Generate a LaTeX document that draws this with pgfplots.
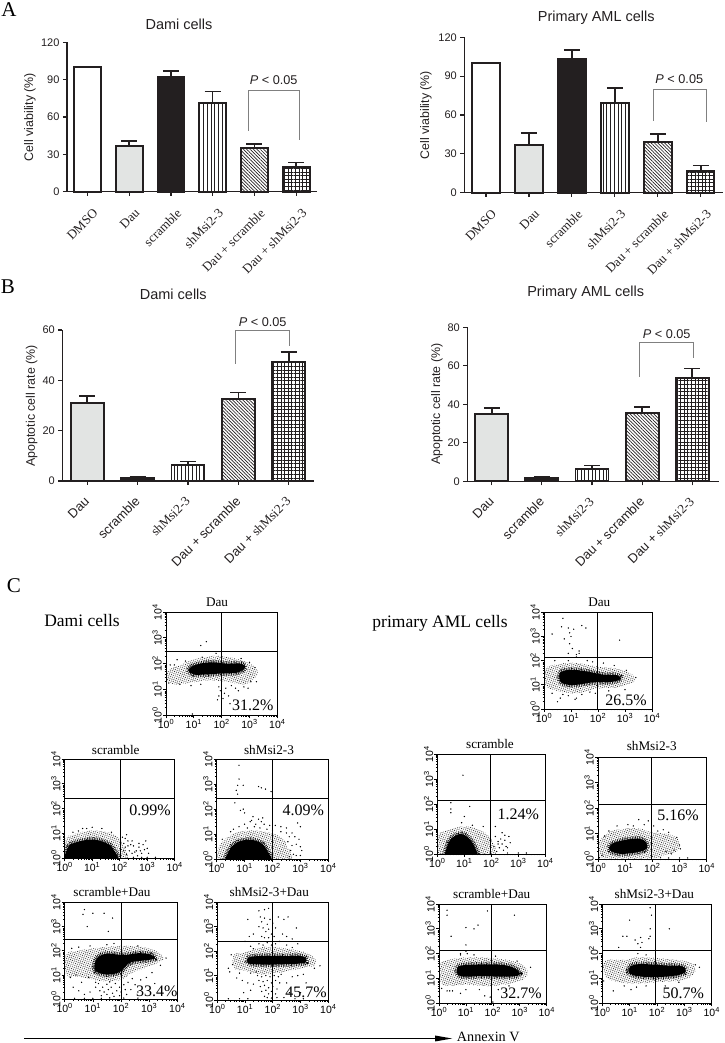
\documentclass[border=0pt]{standalone}
\usepackage{fontspec}
\setmainfont{Liberation Serif}
\setsansfont{Liberation Sans}
\usepackage{pgfplots}
\pgfplotsset{compat=1.18}
\usetikzlibrary{patterns.meta}
\definecolor{ink}{HTML}{231F20}
\definecolor{daugray}{HTML}{E2E4E3}
\definecolor{brk}{HTML}{808080}
\pgfplotsset{
  barax/.style={scale only axis,axis lines=left,axis line style={-,ink,line width=1.1pt},
    ybar,ymin=0,enlargelimits=false,clip=false,
    tick style={ink,line width=1.1pt},major tick length=4pt,tick align=outside,
    ticklabel style={text=ink},
    yticklabel style={font=\sffamily\fontsize{11}{12}\selectfont,/pgf/number format/assume math mode=true},
    xticklabel style={rotate=45,anchor=north east,font=\fontsize{13}{14}\selectfont,inner sep=1pt,xshift=-4pt,yshift=-11pt},
    label style={font=\sffamily\fontsize{12.4}{14}\selectfont,text=ink},
    title style={font=\sffamily\fontsize{14.5}{16}\selectfont,text=ink,anchor=center}},
  bb/.style={bar shift=0pt,draw=ink,line width=1.9pt,
    error bars/y dir=plus,error bars/y explicit,error bars/error bar style={line width=1.6pt,ink},
    error bars/error mark options={rotate=90,mark size=#1,line width=1.6pt,ink}},
  bb/.default=8pt,
  flow/.style={scale only axis,xmin=0,xmax=4,ymin=0,ymax=4,
    axis line style={black,line width=.8pt},
    xtick={0,1,2,3,4},ytick={0,1,2,3,4},xtick pos=left,ytick pos=left,
    xticklabels={10\textsuperscript{0},10\textsuperscript{1},10\textsuperscript{2},10\textsuperscript{3},10\textsuperscript{4}},
    yticklabels={10\textsuperscript{0},10\textsuperscript{1},10\textsuperscript{2},10\textsuperscript{3},10\textsuperscript{4}},
    minor xtick={.3,.48,.6,.7,.78,.85,.9,.95,1.3,1.48,1.6,1.7,1.78,1.85,1.9,1.95,2.3,2.48,2.6,2.7,2.78,2.85,2.9,2.95,3.3,3.48,3.6,3.7,3.78,3.85,3.9,3.95},
    minor ytick={.3,.48,.6,.7,.78,.85,.9,.95,1.3,1.48,1.6,1.7,1.78,1.85,1.9,1.95,2.3,2.48,2.6,2.7,2.78,2.85,2.9,2.95,3.3,3.48,3.6,3.7,3.78,3.85,3.9,3.95},
    major tick length=3pt,minor tick length=1.5pt,tick align=outside,
    tick style={black,line width=.7pt},minor tick style={black,line width=.5pt},
    ticklabel style={font=\sffamily\fontsize{10.5}{11}\selectfont,inner sep=1pt},
    yticklabel style={rotate=90,anchor=south}},
  fringe/.style={draw=none,smooth cycle,tension=.6,pattern={Dots[distance=1.8pt,radius=.45pt,angle=17]},pattern color=black},
  fuzz/.style={draw=black,line width=5pt,dash pattern=on .55pt off 1.1pt,smooth cycle,tension=.6},
  core/.style={draw=none,smooth cycle,tension=.6,fill=black}
}
\newcommand{\cloud}[2]{\addplot[fringe] coordinates {#1};\addplot[fuzz] coordinates {#2};\addplot[core] coordinates {#2};}
\newcommand{\strays}[1]{\addplot[only marks,mark=*,mark size=.42pt,black] coordinates {#1};}
\newcommand{\quadr}[2]{\addplot[black,line width=.7pt] coordinates {(#1,0)(#1,4)};\addplot[black,line width=.7pt] coordinates {(0,#2)(4,#2)};}
\begin{document}
\begin{tikzpicture}
\path[use as bounding box] (0,0) rectangle (724pt,1043pt);
% ---------- A left
\begin{axis}[barax,at={(67pt,851.3pt)},anchor=south west,width=250pt,height=149.4pt,
  xmin=-.492,xmax=5.5,ymax=120,ytick={0,30,60,90,120},xtick={0,1,2,3,4,5},
  xticklabels={DMSO,Dau,scramble,shMsi2-3,Dau + scramble,Dau + shMsi2-3},
  bar width=27pt,title={Dami cells},title style={at={(axis description cs:.448,1.082)}},
  ylabel={Cell viability (\%)},ylabel style={at={(axis description cs:-.148,.5)},anchor=center}]
\addplot[bb,fill=white] coordinates {(0,100)};
\addplot[bb,fill=daugray] coordinates {(1,37) +- (0,3.5)};
\addplot[bb,fill=ink] coordinates {(2,92) +- (0,5)};
\addplot[bb,pattern={Lines[angle=90,distance=3.7pt,line width=.7pt]},pattern color=ink] coordinates {(3,71) +- (0,9.5)};
\addplot[bb,pattern={Lines[angle=-45,distance=2.4pt,line width=.7pt]},pattern color=ink] coordinates {(4,35) +- (0,3.5)};
\addplot[bb,pattern={Hatch[angle=0,distance=3.6pt,line width=.55pt]},pattern color=ink] coordinates {(5,20) +- (0,3.5)};
\end{axis}
% ---------- A right
\begin{axis}[barax,at={(464.3pt,850.3pt)},anchor=south west,width=258.7pt,height=155.4pt,
  xmin=-.506,xmax=5.518,ymax=120,ytick={0,30,60,90,120},xtick={0,1,2,3,4,5},
  xticklabels={DMSO,Dau,scramble,shMsi2-3,Dau + scramble,Dau + shMsi2-3},
  bar width=27.5pt,title={Primary AML cells},title style={at={(axis description cs:.51,1.084)}},
  ylabel={Cell viability (\%)},ylabel style={at={(axis description cs:-.148,.5)},anchor=center}]
\addplot[bb,fill=white] coordinates {(0,100)};
\addplot[bb,fill=daugray] coordinates {(1,37) +- (0,9)};
\addplot[bb,fill=ink] coordinates {(2,103) +- (0,7)};
\addplot[bb,pattern={Lines[angle=90,distance=3.7pt,line width=.7pt]},pattern color=ink] coordinates {(3,69.5) +- (0,11.5)};
\addplot[bb,pattern={Lines[angle=-45,distance=2.4pt,line width=.7pt]},pattern color=ink] coordinates {(4,39) +- (0,6.5)};
\addplot[bb,pattern={Hatch[angle=0,distance=3.6pt,line width=.55pt]},pattern color=ink] coordinates {(5,16.5) +- (0,4.5)};
\end{axis}
% ---------- B left
\begin{axis}[barax,at={(62.3pt,562pt)},anchor=south west,width=251.7pt,height=151pt,
  xmin=-.496,xmax=4.502,ymax=60,ytick={0,20,40,60},xtick={0,1,2,3,4},
  xticklabel style={font=\fontsize{13}{14}\selectfont,xshift=-5pt,yshift=7pt},
  xticklabels={\sffamily Dau,\sffamily scramble,shMsi2-3,\sffamily Dau + scramble,{\sffamily Dau +} shMsi2-3},
  bar width=33pt,title={Dami cells},title style={at={(axis description cs:.441,1.194)}},
  ylabel={Apoptotic cell rate (\%)},ylabel style={at={(axis description cs:-.1216,.498)},anchor=center}]
\addplot[bb,fill=daugray] coordinates {(0,31) +- (0,2.7)};
\addplot[bb,fill=ink] coordinates {(1,1.2) +- (0,.4)};
\addplot[bb,pattern={Lines[angle=90,distance=3.7pt,line width=.7pt]},pattern color=ink] coordinates {(2,6.5) +- (0,1.2)};
\addplot[bb,pattern={Lines[angle=-45,distance=2.4pt,line width=.7pt]},pattern color=ink] coordinates {(3,32.7) +- (0,2.5)};
\addplot[bb,pattern={Hatch[angle=0,distance=3.6pt,line width=.55pt]},pattern color=ink] coordinates {(4,47.3) +- (0,3.9)};
\end{axis}
% ---------- B right
\begin{axis}[barax,at={(467.3pt,561.7pt)},anchor=south west,width=251.4pt,height=154pt,
  xmin=-.49,xmax=4.53,ymax=80,ytick={0,20,40,60,80},xtick={0,1,2,3,4},
  xticklabel style={font=\fontsize{13}{14}\selectfont,xshift=-5pt,yshift=7pt},
  xticklabels={\sffamily Dau,\sffamily scramble,shMsi2-3,\sffamily Dau + scramble,{\sffamily Dau +} shMsi2-3},
  bar width=33pt,title={Primary AML cells},title style={at={(axis description cs:.471,1.188)}},
  ylabel={Apoptotic cell rate (\%)},ylabel style={at={(axis description cs:-.1205,.5)},anchor=center}]
\addplot[bb,fill=daugray] coordinates {(0,34.8) +- (0,3.4)};
\addplot[bb,fill=ink] coordinates {(1,1.8) +- (0,.5)};
\addplot[bb,pattern={Lines[angle=90,distance=3.7pt,line width=.7pt]},pattern color=ink] coordinates {(2,6.3) +- (0,1.9)};
\addplot[bb,pattern={Lines[angle=-45,distance=2.4pt,line width=.7pt]},pattern color=ink] coordinates {(3,35.6) +- (0,2.9)};
\addplot[bb,pattern={Hatch[angle=0,distance=3.6pt,line width=.55pt]},pattern color=ink] coordinates {(4,53.8) +- (0,4.7)};
\end{axis}
% ---------- C Dami Dau
\begin{axis}[flow,at={(166pt,327.7pt)},anchor=south west,width=111.3pt,height=103.3pt]
\cloud{(.05,1.35)(.05,1.7)(.5,1.95)(1,2.15)(1.7,2.3)(2.5,2.2)(3.1,1.95)(3.3,1.7)(3.2,1.45)(2.8,1.2)(2.2,1.3)(1.5,1.35)(.8,1.25)(.3,1.2)}
{(.8,1.75)(1.05,1.95)(1.6,2.05)(2.2,2.0)(2.7,2.0)(2.85,1.85)(2.55,1.65)(2,1.62)(1.4,1.58)(1,1.58)}
\strays{(1.25,2.7)(1.45,2.85)(1.3,2.25)(1.8,2.4)(.4,2.15)(.7,2.1)(.1,1.25)(.5,1.2)(.9,1.15)(1.25,1.2)(1.9,1.1)(1.95,.95)(1.9,.75)(1.85,.6)(2.1,.85)(2.15,1.05)(2.35,1.15)(2.5,1.05)(2.6,.95)(2.8,1.1)(2.95,1.05)(3.05,1.3)(3.25,1.3)(2.25,.75)(2.05,.65)(3.2,1.85)(3,2.05)(2.7,2.2)(.15,1.95)(.3,1.95)(.95,.05)(2.3,.45)}
\quadr{1.99}{2.49}
\end{axis}
% ---------- C Primary Dau
\begin{axis}[flow,at={(544pt,334pt)},anchor=south west,width=108pt,height=96.7pt]
\cloud{(.05,1)(.05,1.65)(.5,1.85)(1.2,1.9)(2,1.75)(2.8,1.65)(3.3,1.4)(3.35,1.15)(2.8,.9)(2,.85)(1.2,.65)(.5,.75)}
{(.6,1.15)(.6,1.5)(1,1.62)(1.6,1.55)(2.2,1.42)(2.7,1.4)(2.85,1.25)(2.5,1.12)(1.8,1.1)(1.2,1)(.8,1.02)}
\strays{(.7,3.75)(.65,3.4)(.3,3.1)(.9,3.35)(1.4,3.45)(1.55,3.35)(1.1,3.3)(.95,3.15)(1,3)(.75,2.9)(.95,2.7)(1.05,2.5)(.9,2.3)(1.3,2.4)(1.3,2.3)(1.2,2.25)(2.8,2.85)(.7,.6)(.6,.45)(1.2,.45)(1.15,.4)(.5,.3)(1.2,2.15)(.3,.65)(.9,.55)(1.4,.6)(1.7,.7)(.4,2)(.9,2)(1.6,2)(1.8,1.95)(2.2,1.9)(2.6,1.8)(3.05,1.6)(3.4,1.3)(2.4,.75)(3,.8)(1.9,.65)}
\quadr{1.97}{2.14}
\end{axis}
% ---------- C Dami scramble
\begin{axis}[flow,at={(64.7pt,184.7pt)},anchor=south west,width=110pt,height=99.3pt]
\cloud{(.02,-.2)(.02,.75)(.3,.95)(.8,1.1)(1.3,1.1)(1.8,.95)(2.1,.6)(2.15,-.2)}
{(.12,-.2)(.12,.45)(.3,.6)(.7,.72)(1.1,.75)(1.5,.62)(1.75,.4)(1.85,-.2)}
\strays{(2.1,.85)(2.2,.8)(2.3,.7)(2.4,.55)(2.5,.5)(2.55,.25)(2.6,.3)(2.7,.45)(2.75,.3)(2.8,.2)(2.85,.55)(2.9,.35)(2.95,.7)(2.35,.3)(2.25,.15)(2.45,.2)(3,.4)(2.65,.1)(3.05,.2)(2.2,.45)(2.15,.3)(1,1.25)(.8,1.2)(.5,1.1)(1.35,1.2)(1.7,1.05)(.65,1.2)(.3,1.05)(2.8,.04)(3,.04)(3.3,.04)(2.5,.04)(2.15,.6)(2.3,.5)(2.45,.7)(2.7,.6)(2.25,.95)}
\quadr{2.01}{2.43}
\end{axis}
% ---------- C Dami shMsi2-3
\begin{axis}[flow,at={(216.7pt,183.7pt)},anchor=south west,width=111.6pt,height=100.3pt]
\cloud{(.05,-.2)(.05,.4)(.3,.8)(.7,1.05)(1.2,1.15)(1.7,1.1)(2.2,.95)(2.5,.6)(2.55,-.2)}
{(.4,-.2)(.45,.35)(.7,.65)(1.1,.78)(1.5,.7)(1.75,.45)(1.9,-.2)}
\strays{(.8,3.75)(.8,3.2)(.75,2.95)(.95,2.95)(.7,2.75)(.75,2.6)(.65,2.25)(.85,1.95)(.95,2)(1.5,2.9)(1.6,2.85)(1.75,2.8)(1.95,2.7)(1,1.85)(1.3,1.7)(1.5,1.6)(1.65,1.65)(1.2,1.5)(1,1.4)(1.4,1.4)(1.7,1.4)(1.9,1.35)(.8,1.3)(2.1,1.35)(2.3,1.3)(2.5,1.25)(2.7,1.05)(2.9,1.45)(3,1.3)(2.8,.9)(2.85,.6)(2.95,.8)(3,.5)(3.05,.35)(2.7,.55)(2.75,.2)(2.85,.15)(2.65,.35)(2.6,.9)(2.5,1.05)(1.1,1.25)(1.35,1.3)(1.55,1.25)(1.8,1.2)(2,1.15)(.5,1.1)(.6,1.2)(.2,.8)(2.3,1.1)(1.25,1.55)(1.6,1.5)(2.55,.7)(3,.15)(2.6,.1)}
\quadr{1.99}{2.45}
\end{axis}
% ---------- C Dami scramble+Dau
\begin{axis}[flow,at={(64.7pt,43.7pt)},anchor=south west,width=112.6pt,height=97pt]
\cloud{(.05,1)(.05,1.85)(.5,2.0)(1,2.1)(2,2.2)(2.8,2.15)(3.3,1.95)(3.5,1.65)(3,1.35)(2.4,1.1)(2,.8)(1.3,.75)(.9,.85)(.4,.95)}
{(1.05,1.25)(1.15,1.7)(1.5,1.88)(2.1,1.82)(2.6,1.9)(3.05,1.85)(3.2,1.68)(2.8,1.6)(2.3,1.5)(1.95,1.12)(1.5,1.02)(1.2,1.1)}
\strays{(.7,3.7)(.65,3.5)(1,3.55)(1.4,3.55)(1.7,3.35)(.8,3)(1.55,2.8)(.25,2.1)(.5,2.15)(.3,.5)(.6,.7)(.9,.3)(.4,1)(.2,.9)(.5,.35)(.7,.2)(.35,.04)(.7,.04)(1,.04)(1.3,.04)(1.6,.06)(2.1,.05)(2.6,.05)(2.5,.6)(2.7,.8)(2.9,.9)(3.1,1.1)(3.2,.65)(2.35,.4)(2.6,.3)(1.1,.5)(.85,.9)(3.4,1.4)(3.6,1.7)(2.6,2.2)(1.5,2.25)(1.75,2.3)(.9,2.2)
(1.2,.65)(1.35,.5)(1.5,.62)(1.65,.5)(1.8,.65)(1.95,.5)(2.1,.6)(2.25,.7)(1.25,.35)(1.4,.3)(1.55,.4)(1.7,.25)(1.85,.35)(2,.3)(2.15,.4)(1.3,.15)(1.5,.2)(1.75,.12)(1.95,.15)(2.2,.2)(1.1,.7)(1.6,.72)(2.4,.85)}
\quadr{2.01}{2.49}
\end{axis}
% ---------- C Dami shMsi2-3+Dau
\begin{axis}[flow,at={(217.3pt,43pt)},anchor=south west,width=111pt,height=97.7pt]
\cloud{(.6,1.3)(.6,1.85)(1,1.95)(1.5,2.15)(2.2,2.15)(3.3,1.9)(3.55,1.45)(3,1.3)(2.4,1.15)(1.6,1.05)(1,1.2)}
{(1.1,1.52)(1.1,1.72)(1.5,1.8)(2.5,1.8)(3.1,1.78)(3.2,1.55)(2.8,1.48)(1.8,1.45)(1.3,1.47)}
\strays{(1.1,3.3)(1.5,3.65)(1.7,3.7)(1.85,3.75)(2.2,3.4)(2.55,3.4)(2.4,3.3)(2.85,2.95)(1.3,2.7)(1.15,2.6)(2.1,2.95)(2.35,2.7)(2.5,2.6)(2.7,2.5)(1,2.4)(2.5,2.25)(2.7,2.15)(2.9,2.3)(1.2,2.2)(1.3,2.1)(.5,1.85)(.55,1.45)(.4,1.3)(.45,1.15)(.8,1.1)(.7,.9)(.9,.8)(1.1,.7)(.95,.3)(1.2,.4)(1.1,.05)(.8,.05)(.4,.05)(2.5,.7)(2.7,.95)(2.9,1)(3.1,1.05)(2.8,.5)(3,.3)(3.2,.7)(2.6,.3)(3.5,1.3)(3.7,1.4)(2.4,.1)(2.8,.05)(3.1,.05)(1.3,.65)(1.2,1.1)
(1.55,3.4)(1.6,3.2)(1.7,3.35)(1.8,3.1)(1.9,3.3)(2,3.15)(1.5,3)(1.65,2.95)(1.75,2.8)(1.85,2.9)(1.95,2.7)(1.6,2.6)(1.7,2.55)(1.85,2.55)(2.05,2.6)(1.5,2.3)(1.65,2.25)(1.8,2.35)(1.95,2.25)(2.1,2.3)(2.25,2.4)
(1.45,1)(1.6,.95)(1.75,1)(1.9,.95)(2.05,1)(2.2,.95)(1.5,.8)(1.65,.75)(1.8,.8)(1.95,.7)(2.1,.8)(2.25,.7)(1.55,.55)(1.7,.6)(1.85,.5)(2,.55)(2.15,.45)(1.6,.35)(1.75,.4)(1.85,.25)(1.95,.35)(2.1,.25)(1.7,.15)(1.8,.1)(1.95,.08)(2.15,.1)(1.4,1.15)(2.3,1.05)}
\quadr{2}{2.42}
\end{axis}
% ---------- C Primary scramble
\begin{axis}[flow,at={(437.3pt,189pt)},anchor=south west,width=108pt,height=100pt]
\cloud{(.03,-.2)(.03,.75)(.5,1.0)(1,1.1)(1.5,1)(2,.6)(2.05,-.2)}
{(.35,-.2)(.42,.45)(.65,.72)(.9,.8)(1.15,.65)(1.35,.35)(1.45,-.2)}
\strays{(.95,3.15)(.5,2.05)(.5,1.8)(.5,1.65)(1.2,1.9)(1,1.5)(1.7,1.1)(1.3,1.15)(.9,1.25)(2.15,.7)(2.25,.5)(2.35,.6)(2.4,.4)(2.5,.55)(2.55,.3)(2.45,.15)(2.6,.25)(2.65,.7)(2.3,.25)(2.7,.45)(2.2,.1)(2.15,1.1)(2.4,.85)(2.25,.4)(2.5,.75)(2.1,.3)(2.6,.04)(3,.04)(3.3,.04)}
\quadr{1.98}{2.13}
\end{axis}
% ---------- C Primary shMsi2-3
\begin{axis}[flow,at={(598pt,184pt)},anchor=south west,width=108.7pt,height=101.7pt]
\cloud{(.05,.2)(.05,.7)(.4,1.05)(1,1.2)(1.5,1.2)(2,1.05)(2.7,.95)(3,.65)(2.9,.3)(2.4,.15)(2,.03)(.3,.03)}
{(.4,.42)(.55,.62)(1,.75)(1.5,.8)(1.75,.68)(1.8,.42)(1.5,.28)(.9,.2)(.55,.27)}
\strays{(1.85,1.5)(1.5,1.55)(.7,1.3)(1.1,1.35)(2.2,1.1)(2.6,1.05)(2.5,.3)(2.8,.35)(1.3,1.3)(1.7,1.35)(2.05,1.3)(.4,1.1)(.25,.9)(2.4,1.15)(2.9,.85)(3,.55)(3.03,.4)(2.7,.2)(2.3,.05)(2.6,.04)(3,.04)(3.3,.04)(.15,.15)(.05,.05)}
\quadr{1.98}{2.15}
\end{axis}
% ---------- C Primary scramble+Dau
\begin{axis}[flow,at={(439pt,39.7pt)},anchor=south west,width=107.7pt,height=99.3pt]
\cloud{(.05,.9)(.05,1.6)(.6,1.8)(1.5,1.85)(2.5,1.75)(3.1,1.55)(3.3,1.2)(3,.9)(2,.7)(1,.75)(.3,.7)}
{(.7,1.15)(.72,1.48)(1.2,1.55)(2,1.57)(2.6,1.5)(2.95,1.3)(2.95,1.12)(2.4,1.07)(1.6,1.1)(1,1.07)}
\strays{(.3,3.75)(.3,3.55)(1.8,3.72)(1,3.05)(1.3,3)(1.45,3.15)(.45,2.7)(1,2.35)(2.8,3.55)(1,2.1)(.8,2)(1.05,2)(.1,.6)(.3,.5)(.4,.5)(.5,.5)(1,.55)(1.7,.3)(2,.05)(1.9,.25)(.8,.4)(.8,1.95)(1.3,1.95)(2.1,1.9)(2.9,1.7)(3.4,1.45)(2.6,.7)(2.2,.55)(1.5,.55)}
\quadr{1.96}{2.15}
\end{axis}
% ---------- C Primary shMsi2-3+Dau
\begin{axis}[flow,at={(602.3pt,39.7pt)},anchor=south west,width=109.4pt,height=99.3pt]
\cloud{(.1,1.1)(.1,1.7)(.8,1.75)(1.3,1.85)(2.2,1.8)(3.2,1.65)(3.4,1.3)(3,.95)(2,.85)(1.2,.8)(.6,.85)}
{(1,1.2)(1.02,1.48)(1.4,1.58)(2.4,1.52)(2.95,1.48)(3,1.22)(2.4,1.08)(1.5,1.07)}
\strays{(1.75,3.85)(1.8,3.55)(1,3.35)(1.75,3)(1.75,2.7)(2.45,3)(.75,2.7)(.9,2.7)(1.2,2.55)(1.4,2.65)(1.7,2.6)(1.3,2.4)(1.45,2.45)(.6,2.25)(1.4,2.25)(1.3,2)(1.6,1.95)(.4,.5)(.8,.7)(1.05,.55)(1.25,.65)(1.6,.7)(2.3,.7)(2.8,.85)(3.4,1.55)(3.55,1.45)(.05,.9)}
\quadr{1.95}{2.12}
\end{axis}
% ---------- annotations, in reference pixels
\begin{scope}[x=1pt,y=-1pt,yshift=1043pt]
\tikzset{
  pv/.style={font=\sffamily\fontsize{12.7}{14}\selectfont,text=ink},
  ft/.style={font=\fontsize{13.2}{14}\selectfont},
  fp/.style={font=\fontsize{16}{18}\selectfont},
  lt/.style={font=\fontsize{21}{23}\selectfont}}
\draw[brk,line width=.7pt] (248,131)--(248,90.3)--(299.7,90.3)--(299.7,140);
\node[pv] at (273.7,80.3) {\textit{P} < 0.05};
\draw[brk,line width=.7pt] (653,120.7)--(653,89.3)--(706.3,89.3)--(706.3,122.3);
\node[pv] at (679.3,78.7) {\textit{P} < 0.05};
\draw[brk,line width=.7pt] (235.3,364)--(235.3,330.7)--(289,330.7)--(289,346);
\node[pv] at (262.7,322.3) {\textit{P} < 0.05};
\draw[brk,line width=.7pt] (639.7,376.7)--(639.7,342)--(693,342)--(693,357.7);
\node[pv] at (666.7,333.7) {\textit{P} < 0.05};
\node[lt] at (9,10) {A};
\node[lt] at (8,287) {B};
\node[lt] at (14,586) {C};
\node[font=\fontsize{17.5}{19}\selectfont] at (82,621) {Dami cells};
\node[font=\fontsize{17.5}{19}\selectfont] at (440,623) {primary AML cells};
\node[ft] at (217,602.7) {Dau};
\node[ft] at (599.3,602.7) {Dau};
\node[ft] at (115.7,750.3) {scramble};
\node[ft] at (269,750) {shMsi2-3};
\node[ft] at (112,892.3) {scramble+Dau};
\node[ft] at (269.3,891.7) {shMsi2-3+Dau};
\node[ft] at (490,744.3) {scramble};
\node[ft] at (651.7,746) {shMsi2-3};
\node[ft] at (491.7,894.3) {scramble+Dau};
\node[ft] at (654.3,894.3) {shMsi2-3+Dau};
\node[fp] at (252.7,705.7) {31.2\%};
\node[fp] at (626,700) {26.5\%};
\node[fp] at (150,810) {0.99\%};
\node[fp] at (303.3,810) {4.09\%};
\node[fp] at (156.7,991.7) {33.4\%};
\node[fp] at (306,992.7) {45.7\%};
\node[fp] at (518.3,814.3) {1.24\%};
\node[fp] at (678,815.3) {5.16\%};
\node[fp] at (521,993.3) {32.7\%};
\node[fp] at (683.3,993.3) {50.7\%};
\draw[black,line width=1.2pt] (24,1038.5)--(438,1038.5);
\fill[black] (435,1035.5)--(452,1038.5)--(435,1041.5)--cycle;
\node[anchor=west,font=\fontsize{14.2}{15}\selectfont,inner sep=0pt] at (456.7,1036.5) {Annexin V};
\end{scope}
\end{tikzpicture}
\end{document}
